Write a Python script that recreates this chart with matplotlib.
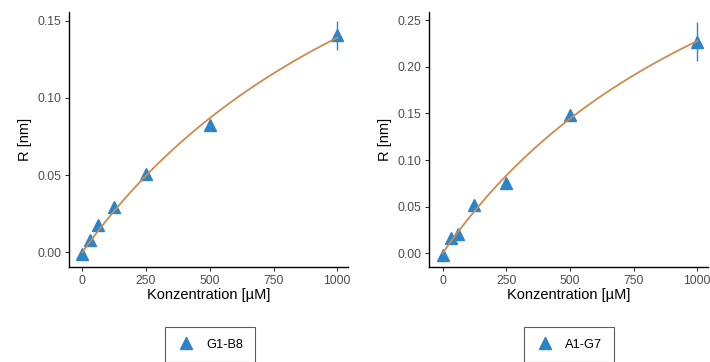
import numpy as np
import matplotlib
matplotlib.use("Agg")
import matplotlib.pyplot as plt

plt.rcParams['font.family'] = ['Liberation Sans', 'DejaVu Sans']

conc = [0, 31.25, 62.5, 125, 250, 500, 1000]

g1_label = "G1-B8"
g1_R = [-0.0008, 0.008, 0.018, 0.0295, 0.0505, 0.0825, 0.1405]
g1_err = [0.001, 0.001, 0.001, 0.001, 0.001, 0.001, 0.0092]

a1_label = "A1-G7"
a1_R = [-0.002, 0.016, 0.021, 0.052, 0.075, 0.148, 0.227]
a1_err = [0.001, 0.001, 0.001, 0.001, 0.001, 0.001, 0.021]

xticks = [0, 250, 500, 750, 1000]
g1_yticks = [0.00, 0.05, 0.10, 0.15]
a1_yticks = [0.00, 0.05, 0.10, 0.15, 0.20, 0.25]

BLUE = "#2B83C8"
ORANGE = "#CF8A4E"


def fit_hyperbola(x, y):
    x = np.asarray(x, float)
    y = np.asarray(y, float)
    best = None
    for K in np.linspace(10, 5000, 5000):
        f = x / (K + x)
        Rmax = np.dot(f, y) / np.dot(f, f)
        sse = np.sum((y - Rmax * f) ** 2)
        if best is None or sse < best[0]:
            best = (sse, K, Rmax)
    return best[1], best[2]


fig = plt.figure(figsize=(7.10, 3.62), dpi=100)
W, H = 710, 362

panels = [
    (69, 348, g1_R, g1_err, g1_label, g1_yticks, (-0.0095, 0.1556), (163, 257)),
    (429.3, 708, a1_R, a1_err, a1_label, a1_yticks, (-0.0147, 0.2587), (523, 615)),
]

for x0, x1, R, err, label, yt, ylim, (lx0, lx1) in panels:
    ax = fig.add_axes([x0 / W, 1 - 267 / H, (x1 - x0) / W, (267 - 12) / H])
    cont = ax.errorbar(conc, R, yerr=err, fmt='^', color=BLUE, ms=8,
                       elinewidth=1.0, capsize=0, zorder=3, label=label)
    K, Rmax = fit_hyperbola(conc, R)
    xs = np.linspace(0, 1000, 300)
    ax.plot(xs, Rmax * xs / (K + xs), color=ORANGE, lw=1.3, zorder=4)
    ax.set_xlim(-52, 1042)
    ax.set_ylim(*ylim)
    ax.set_xticks(xticks)
    ax.set_yticks(yt)
    ax.set_yticklabels([f"{v:.2f}" for v in yt])
    for s in ['top', 'right']:
        ax.spines[s].set_visible(False)
    for s in ['left', 'bottom']:
        ax.spines[s].set_linewidth(1.0)
        ax.spines[s].set_color('black')
    ax.tick_params(axis='both', length=3, width=0.8, color='#333333',
                   labelsize=8.8, labelcolor='#4D4D4D', pad=2.5)
    ax.set_xlabel("Konzentration [µM]", fontsize=10.5, labelpad=1, color='black')
    ax.set_ylabel("R [nm]", fontsize=10.5, labelpad=4, color='black')
    ax.set_facecolor('white')
    leg = fig.legend(handles=[cont], labels=[label], loc='upper center',
                     bbox_to_anchor=((lx0 + lx1) / 2 / W, 1 - 327 / H),
                     fontsize=9.2, frameon=True, fancybox=False,
                     borderpad=0.9, handletextpad=0.8, handlelength=1.5,
                     borderaxespad=0)
    leg.get_frame().set_edgecolor('#333333')
    leg.get_frame().set_linewidth(0.8)

fig.savefig("out.png", dpi=100)
